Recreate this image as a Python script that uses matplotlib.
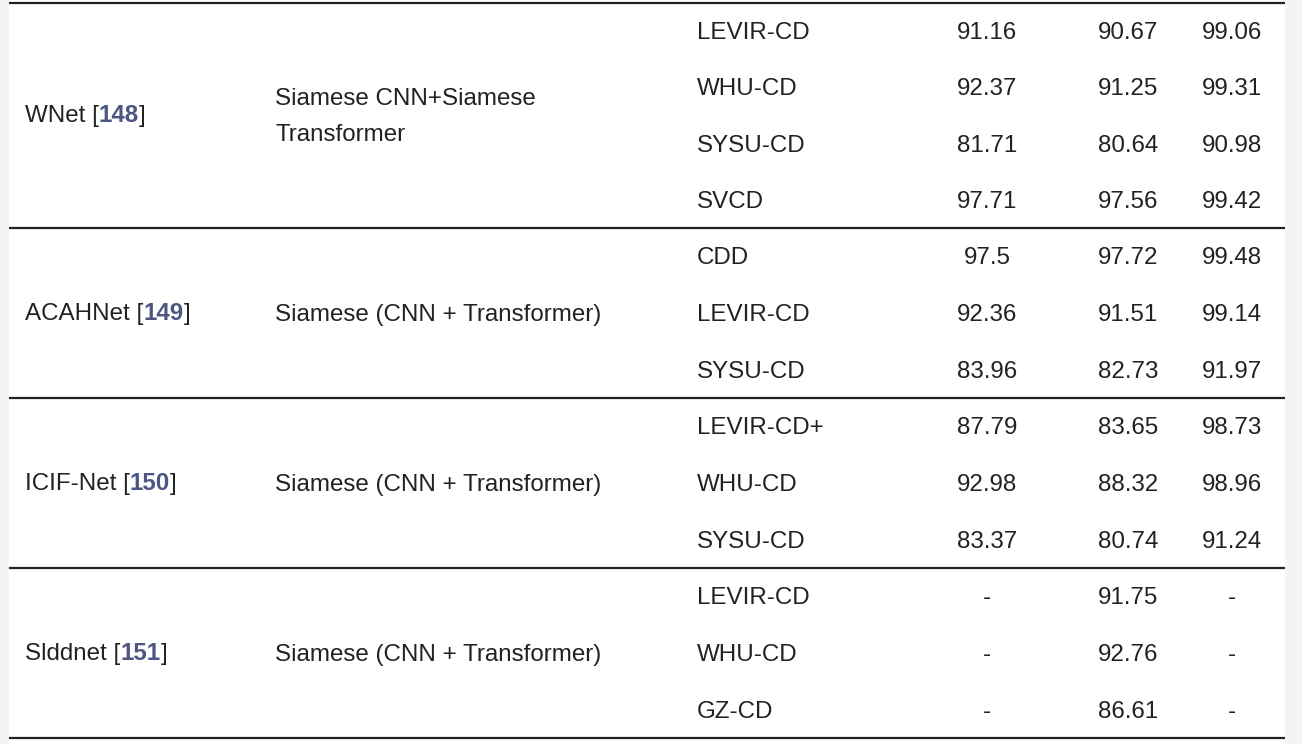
import matplotlib.pyplot as plt
from matplotlib.patches import Rectangle

plt.rcParams['font.family'] = ['Liberation Sans', 'DejaVu Sans']

# table content
methods = ['WNet', 'ACAHNet', 'ICIF-Net', 'Slddnet']
refs = ['148', '149', '150', '151']
archs = [['Siamese CNN+Siamese', 'Transformer'],
         ['Siamese (CNN + Transformer)'],
         ['Siamese (CNN + Transformer)'],
         ['Siamese (CNN + Transformer)']]
datasets = [['LEVIR-CD', 'WHU-CD', 'SYSU-CD', 'SVCD'],
            ['CDD', 'LEVIR-CD', 'SYSU-CD'],
            ['LEVIR-CD+', 'WHU-CD', 'SYSU-CD'],
            ['LEVIR-CD', 'WHU-CD', 'GZ-CD']]
score_a = [['91.16', '92.37', '81.71', '97.71'],
           ['97.5', '92.36', '83.96'],
           ['87.79', '92.98', '83.37'],
           ['-', '-', '-']]
score_b = [['90.67', '91.25', '80.64', '97.56'],
           ['97.72', '91.51', '82.73'],
           ['83.65', '88.32', '80.74'],
           ['91.75', '92.76', '86.61']]
score_c = [['99.06', '99.31', '90.98', '99.42'],
           ['99.48', '99.14', '91.97'],
           ['98.73', '98.96', '91.24'],
           ['-', '-', '-']]

W, H = 1302, 744
fig = plt.figure(figsize=(W / 100, H / 100), dpi=100, facecolor='#f4f4f4')
ax = fig.add_axes([0, 0, 1, 1])
ax.set_xlim(0, W)
ax.set_ylim(H, 0)
ax.axis('off')

ax.add_patch(Rectangle((9, 0), 1276, H, facecolor='white', edgecolor='none'))

fs = 17.4
fpx = fs * 100 / 72
txt = '#222222'
ref_col = '#4d5582'
x_method, x_arch, x_data = 25, 275, 697
x_a, x_b, x_c = 987, 1128, 1232

lines_y = [2.5, 227.5, 397.5, 567.5, 737.5]
renderer = fig.canvas.get_renderer()


def put(x, yc, s, ha='left', **kw):
    # yc is the visual centre of capital letters
    return ax.text(x, yc + 0.35 * fpx, s, ha=ha, va='baseline', fontsize=fs,
                   color=kw.pop('color', txt), **kw)


def adv(t):
    bb = t.get_window_extent(renderer)
    return bb.x1


for y in lines_y:
    ax.plot([9, 1285], [y, y], color='#222222', lw=1.6, solid_capstyle='butt')

for g in range(len(methods)):
    top, bot = lines_y[g], lines_y[g + 1]
    n = len(datasets[g])
    rh = (bot - top) / n
    mid = (top + bot) / 2

    t = put(x_method, mid - 1, methods[g] + ' [')
    t = put(adv(t), mid - 1, refs[g], color=ref_col, fontweight='bold')
    put(adv(t), mid - 1, ']')

    nl = len(archs[g])
    for k, line in enumerate(archs[g]):
        put(x_arch, mid + (k - (nl - 1) / 2) * 36, line)

    for i in range(n):
        yc = top + rh * (i + 0.5)
        put(x_data, yc, datasets[g][i])
        put(x_a, yc, score_a[g][i], ha='center')
        put(x_b, yc, score_b[g][i], ha='center')
        put(x_c, yc, score_c[g][i], ha='center')

fig.savefig('out.png', dpi=100, facecolor=fig.get_facecolor())
